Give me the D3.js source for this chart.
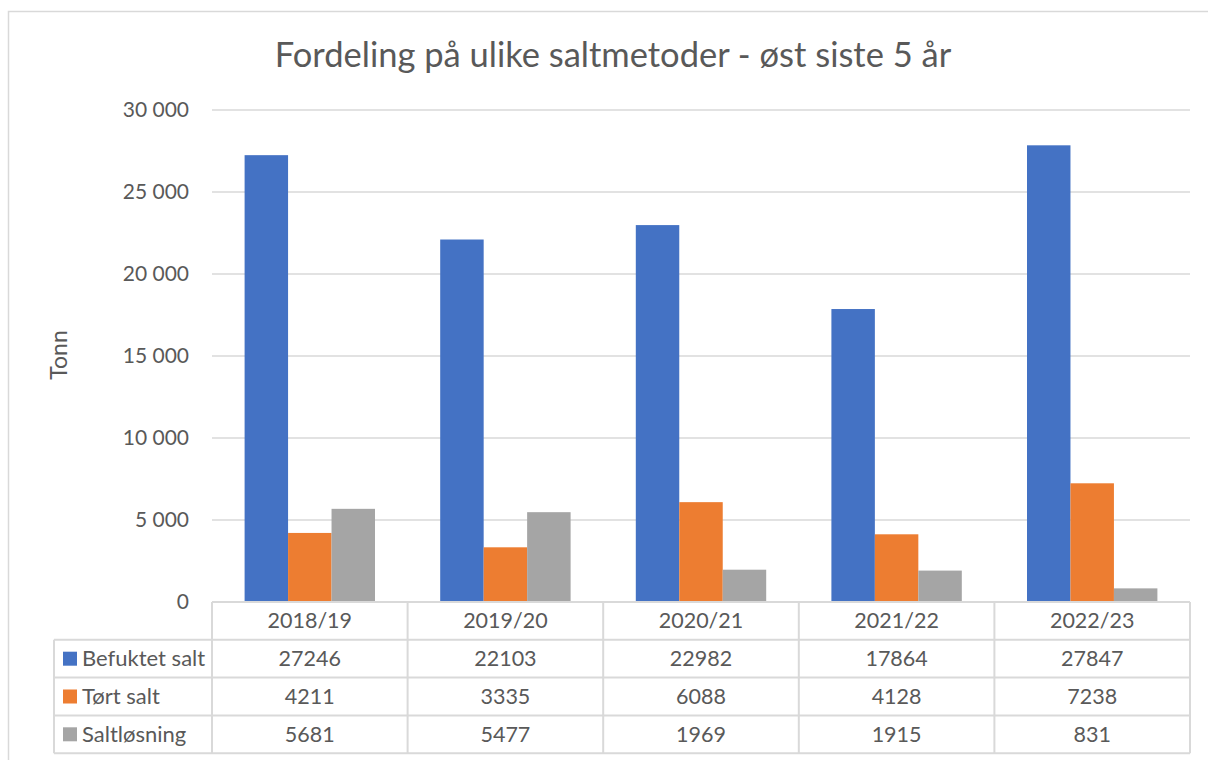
<!DOCTYPE html>
<html>
<head>
<meta charset="utf-8">
<script src="https://cdn.jsdelivr.net/npm/d3@7"></script>
<style>
  html, body { margin: 0; padding: 0; background: #fff; }
  svg { display: block; }
  text { font-family: Lato, "Open Sans", sans-serif; fill: #595959; }
</style>
</head>
<body>
<svg id="chart" width="1208" height="760"></svg>
<script>
const title = "Fordeling på ulike saltmetoder - øst siste 5 år";
const categories = ["2018/19", "2019/20", "2020/21", "2021/22", "2022/23"];
const seriesNames = ["Befuktet salt", "Tørt salt", "Saltløsning"];
const befuktetSalt = [27246, 22103, 22982, 17864, 27847];
const tortSalt = [4211, 3335, 6088, 4128, 7238];
const saltlosning = [5681, 5477, 1969, 1915, 831];
const seriesValues = [befuktetSalt, tortSalt, saltlosning];
const colors = ["#4472C4", "#ED7D31", "#A5A5A5"];
const yTicks = [0, 5000, 10000, 15000, 20000, 25000, 30000];
const yTitle = "Tonn";

const svg = d3.select("#chart");
const W = 1208, H = 760;
const plot = { left: 212, right: 1190, top: 110, bottom: 602 };
const tableLeft = 54;
const rowH = 37.8;

// outer border
svg.append("rect").attr("x", 8.5).attr("y", 11.5).attr("width", W + 20).attr("height", H + 20)
  .attr("fill", "none").attr("stroke", "#D9D9D9").attr("stroke-width", 1.5);

const x = d3.scaleBand().domain(categories).range([plot.left, plot.right]).paddingInner(0).paddingOuter(0);
const y = d3.scaleLinear().domain([0, 30000]).range([plot.bottom, plot.top]);

const fmt = v => d3.format(",")(v).replace(/,/g, " ");

// gridlines
svg.append("g").selectAll("line").data(yTicks).join("line")
  .attr("x1", plot.left).attr("x2", plot.right)
  .attr("y1", d => y(d)).attr("y2", d => y(d))
  .attr("stroke", "#D9D9D9").attr("stroke-width", 1.5);

// y tick labels
svg.append("g").selectAll("text").data(yTicks).join("text")
  .attr("x", 189).attr("y", d => y(d)).attr("dy", "0.35em")
  .attr("text-anchor", "end").attr("font-size", 21)
  .text(d => fmt(d));

// y title
svg.append("text").attr("transform", "translate(67,355) rotate(-90)")
  .attr("text-anchor", "middle").attr("font-size", 23).text(yTitle);

// bars
const bw = x.bandwidth() / 4.5;
const x1 = d3.scaleBand().domain(d3.range(3)).range([0, bw * 3]);
const groups = svg.append("g").selectAll("g").data(categories).join("g")
  .attr("transform", d => `translate(${x(d) + (x.bandwidth() - bw * 3) / 2},0)`);
groups.selectAll("rect").data((c, ci) => seriesValues.map((s, si) => ({ si, v: s[ci] }))).join("rect")
  .attr("x", d => x1(d.si)).attr("width", x1.bandwidth())
  .attr("y", d => y(d.v)).attr("height", d => y(0) - y(d.v))
  .attr("fill", d => colors[d.si]);

// data table
const tbl = svg.append("g");
const lineColor = "#D9D9D9";
const tTop = plot.bottom;
const rowsY = [tTop, tTop + rowH, tTop + 2 * rowH, tTop + 3 * rowH, tTop + 4 * rowH];
tbl.append("line").attr("x1", plot.left).attr("x2", plot.right).attr("y1", rowsY[0]).attr("y2", rowsY[0])
  .attr("stroke", lineColor).attr("stroke-width", 2);
for (let i = 1; i < rowsY.length; i++) {
  tbl.append("line").attr("x1", tableLeft).attr("x2", plot.right).attr("y1", rowsY[i]).attr("y2", rowsY[i])
    .attr("stroke", lineColor).attr("stroke-width", 2);
}
const vx = categories.map(c => x(c)).concat([plot.right]);
vx.forEach(v => {
  tbl.append("line").attr("x1", v).attr("x2", v).attr("y1", rowsY[0]).attr("y2", rowsY[4])
    .attr("stroke", lineColor).attr("stroke-width", 2);
});
tbl.append("line").attr("x1", tableLeft).attr("x2", tableLeft).attr("y1", rowsY[1]).attr("y2", rowsY[4])
  .attr("stroke", lineColor).attr("stroke-width", 2);

tbl.selectAll("text.cat").data(categories).join("text").attr("class", "cat")
  .attr("x", d => x(d) + x.bandwidth() / 2).attr("y", rowsY[0] + rowH / 2).attr("dy", "0.35em")
  .attr("text-anchor", "middle").attr("font-size", 21.5).text(d => d);

seriesNames.forEach((name, si) => {
  const cy = rowsY[si + 1] + rowH / 2;
  tbl.append("rect").attr("x", 63).attr("y", cy - 7).attr("width", 14).attr("height", 14).attr("fill", colors[si]);
  tbl.append("text").attr("x", 82).attr("y", cy).attr("dy", "0.35em").attr("font-size", 22).text(name);
  tbl.selectAll(null).data(seriesValues[si]).join("text")
    .attr("x", (d, i) => x(categories[i]) + x.bandwidth() / 2).attr("y", cy).attr("dy", "0.35em")
    .attr("text-anchor", "middle").attr("font-size", 21.5).text(d => d);
});

// title
svg.append("text").attr("x", 613).attr("y", 67).attr("text-anchor", "middle")
  .attr("font-size", 34.5).text(title);
</script>
</body>
</html>
